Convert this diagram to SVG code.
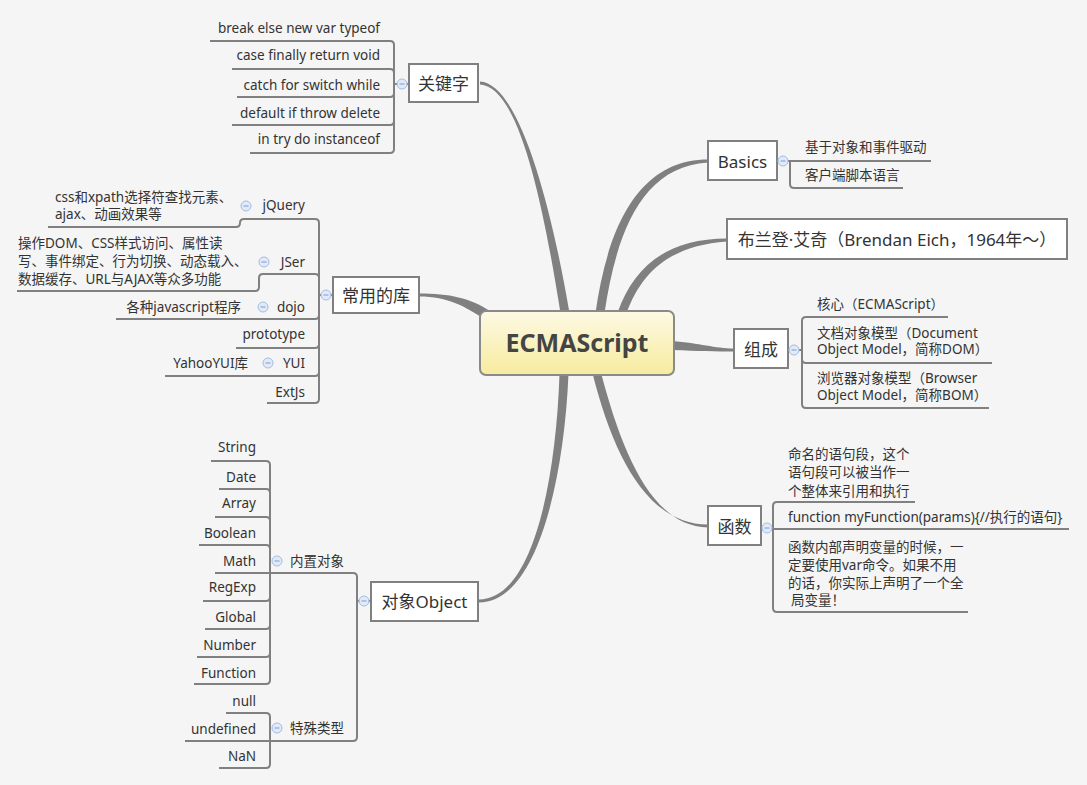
<svg xmlns="http://www.w3.org/2000/svg" width="1087" height="785" viewBox="0 0 1087 785">
<defs>
<linearGradient id="cg" x1="0" y1="0" x2="0" y2="1">
<stop offset="0" stop-color="#fdf9e4"/>
<stop offset="1" stop-color="#f7eb9e"/>
</linearGradient>
<g id="col"><circle r="5" fill="#e2eaf8" stroke="#a3bbe4" stroke-width="1"/><line x1="-2.5" y1="0" x2="2.5" y2="0" stroke="#8ba7da" stroke-width="1.2"/></g>
</defs>
<style>
text{font-family:"Noto Sans","Noto Sans CJK SC",sans-serif;fill:#333;dominant-baseline:central}
.lf{font-size:13.5px}
.tt{font-size:17px;text-anchor:middle}
.e{text-anchor:end}
.br{fill:none;stroke:#808080;stroke-width:2}
.conn{fill:#808080}
.tb{fill:#fff;stroke:#808080;stroke-width:2}
</style>
<rect width="1087" height="785" fill="#f5f5f5"/>
<g id="connectors">
<path class="conn" d="M480,81.5 C520,83.5 552,210 569.5,313 L560.5,313 C544,210 520,86.5 480,84.5 Z"/>
<path class="conn" d="M595.5,313 C607.5,228 638,159.5 708,159.5 L708,162.5 C642,166.5 616.5,232 604.5,313 Z"/>
<path class="conn" d="M617.8,312 C634,266 668,238.5 727,238.5 L727,241.5 C672,245.5 642,270 626.2,314 Z"/>
<path class="conn" d="M672,341 C700,343 715,348.5 734,348.5 L734,351.5 C715,351.5 700,351 672,350 Z"/>
<path class="conn" d="M592.7,374 C613.7,457 648,524.5 708,524.5 L708,527.5 C652,526.5 622.3,453 601.3,374 Z"/>
<path class="conn" d="M559.5,374 C556,480 533,599.5 479,599.5 L479,602.5 C537,602.5 564,480 568.5,374 Z"/>
<path class="conn" d="M419,293.5 C450,293.5 470,298 490,311 L484,319 C466,307 448,296.5 419,296.5 Z"/>
<path class="br" d="M409,84 H394 M394,84 V45 Q394,41 390,41 H210 M394,84 V73 Q394,69 390,69 H232 M394,84 V93 Q394,97 390,97 H237 M394,84 V121 Q394,125 390,125 H232 M394,84 V149 Q394,153 390,153 H250"/>
<path class="br" d="M333,295 H319 M319,295 V223 Q319,219 315,219 H244 Q240,219 240,223 Q240,227 236,227 H48 M319,295 V278 Q319,274 315,274 H263 Q259,274 259,278 V287 Q259,291 255,291 H17 M319,295 V315 Q319,319 315,319 H116 M319,295 V344 Q319,348 315,348 H236 M319,295 V372 Q319,376 315,376 H165 M319,295 V399 Q319,403 315,403 H267"/>
<path class="br" d="M371,601 H357 M357,601 V577 Q357,573 353,573 H215 M270,573 V465 Q270,461 266,461 H211 M270,573 V493 Q270,489 266,489 H219 M270,573 V521 Q270,517 266,517 H215 M270,573 V549 Q270,545 266,545 H199 M270,573 V597 Q270,601 266,601 H203 M270,573 V625 Q270,629 266,629 H205 M270,573 V653 Q270,657 266,657 H197 M270,573 V680 Q270,684 266,684 H194 M357,601 V737 Q357,741 353,741 H185 M270,741 V717 Q270,713 266,713 H226 M270,741 V764 Q270,768 266,768 H219"/>
<path class="br" d="M777,161 H931 M790,161 V184 Q790,188 794,188 H903"/>
<path class="br" d="M788,350 H802 M802,350 V321 Q802,317 806,317 H948 M802,350 V359 Q802,363 806,363 H992 M802,350 V404 Q802,408 806,408 H989"/>
<path class="br" d="M761,529 H1069 M773,529 V506 Q773,502 777,502 H915 M773,529 V608 Q773,612 777,612 H968"/>
</g>
<g id="center">
<rect x="480" y="311" width="194" height="64" rx="6" fill="url(#cg)" stroke="#8a8a8a" stroke-width="2"/>
<text x="577" y="342" style="font-size:25px;font-weight:bold;text-anchor:middle;fill:#444">ECMAScript</text>
</g>
<g id="keywords">
<rect class="tb" x="409" y="64" width="69" height="38"/>
<text class="tt" x="443.5" y="83">关键字</text>
<use href="#col" x="402" y="84"/>
<text class="lf e" x="380" y="28">break else new var typeof</text>
<text class="lf e" x="380" y="55">case finally return void</text>
<text class="lf e" x="380" y="85">catch for switch while</text>
<text class="lf e" x="380" y="113">default if throw delete</text>
<text class="lf e" x="380" y="139">in try do instanceof</text>
</g>
<g id="libraries">
<rect class="tb" x="333" y="277" width="86" height="36"/>
<text class="tt" x="376" y="295">常用的库</text>
<use href="#col" x="326" y="295"/>
<text class="lf e" x="305" y="205">jQuery</text>
<use href="#col" x="246" y="206"/>
<text class="lf" x="55" y="197">css和xpath选择符查找元素、</text>
<text class="lf" x="55" y="214">ajax、动画效果等</text>
<text class="lf e" x="305" y="262">JSer</text>
<use href="#col" x="264" y="262"/>
<text class="lf" x="18" y="243">操作DOM、CSS样式访问、属性读</text>
<text class="lf" x="18" y="261">写、事件绑定、行为切换、动态载入、</text>
<text class="lf" x="18" y="279">数据缓存、URL与AJAX等众多功能</text>
<text class="lf e" x="305" y="307">dojo</text>
<use href="#col" x="263" y="307"/>
<text class="lf e" x="241" y="307">各种javascript程序</text>
<text class="lf e" x="305" y="334">prototype</text>
<text class="lf e" x="305" y="363">YUI</text>
<use href="#col" x="268" y="363"/>
<text class="lf e" x="248" y="363">YahooYUI库</text>
<text class="lf e" x="305" y="392">ExtJs</text>
</g>
<g id="object">
<rect class="tb" x="371" y="582" width="107" height="39"/>
<text class="tt" x="424.5" y="601">对象Object</text>
<use href="#col" x="364" y="601"/>
<text class="lf" x="290" y="561">内置对象</text>
<use href="#col" x="277" y="561"/>
<text class="lf e" x="256" y="447">String</text>
<text class="lf e" x="256" y="477">Date</text>
<text class="lf e" x="256" y="503">Array</text>
<text class="lf e" x="256" y="533">Boolean</text>
<text class="lf e" x="256" y="561">Math</text>
<text class="lf e" x="256" y="587">RegExp</text>
<text class="lf e" x="256" y="617">Global</text>
<text class="lf e" x="256" y="645">Number</text>
<text class="lf e" x="256" y="673">Function</text>
<text class="lf" x="290" y="728">特殊类型</text>
<use href="#col" x="277" y="728"/>
<text class="lf e" x="256" y="701">null</text>
<text class="lf e" x="256" y="729">undefined</text>
<text class="lf e" x="256" y="756">NaN</text>
</g>
<g id="basics">
<rect class="tb" x="708" y="141" width="69" height="39"/>
<text class="tt" x="742.5" y="161">Basics</text>
<use href="#col" x="783" y="161"/>
<text class="lf" x="805" y="147">基于对象和事件驱动</text>
<text class="lf" x="805" y="175">客户端脚本语言</text>
</g>
<g id="brendan">
<rect class="tb" x="727" y="219" width="340" height="40"/>
<text class="tt" x="897" y="239">布兰登·艾奇（Brendan Eich，1964年～）</text>
</g>
<g id="composition">
<rect class="tb" x="734" y="329" width="54" height="39"/>
<text class="tt" x="761" y="349">组成</text>
<use href="#col" x="794" y="350"/>
<text class="lf" x="817" y="304">核心（ECMAScript）</text>
<text class="lf" x="817" y="333">文档对象模型（Document</text>
<text class="lf" x="817" y="349">Object Model，简称DOM）</text>
<text class="lf" x="817" y="378">浏览器对象模型（Browser</text>
<text class="lf" x="817" y="395">Object Model，简称BOM）</text>
</g>
<g id="functions">
<rect class="tb" x="708" y="506" width="53" height="39"/>
<text class="tt" x="734.5" y="526">函数</text>
<use href="#col" x="767" y="528"/>
<text class="lf" x="788" y="454">命名的语句段，这个</text>
<text class="lf" x="788" y="472">语句段可以被当作一</text>
<text class="lf" x="788" y="491">个整体来引用和执行</text>
<text class="lf" x="788" y="517">function myFunction(params){//执行的语句}</text>
<text class="lf" x="788" y="547">函数内部声明变量的时候，一</text>
<text class="lf" x="788" y="565">定要使用var命令。如果不用</text>
<text class="lf" x="788" y="583">的话，你实际上声明了一个全</text>
<text class="lf" x="791" y="600">局变量！</text>
</g>
</svg>
